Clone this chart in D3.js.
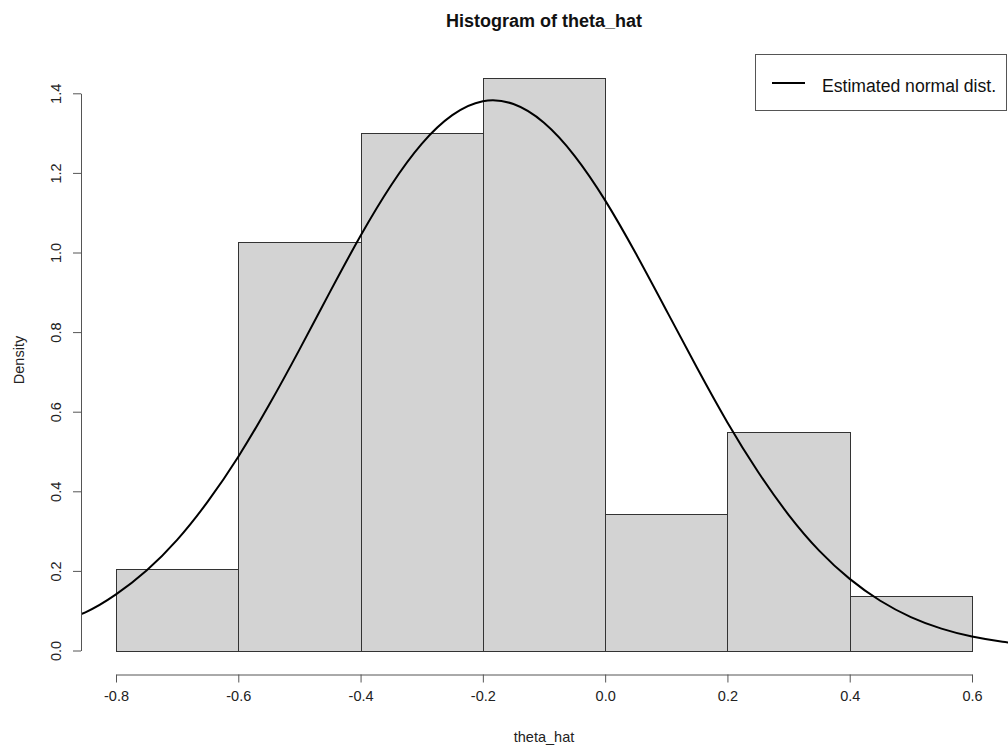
<!DOCTYPE html>
<html>
<head>
<meta charset="utf-8">
<script src="https://cdn.jsdelivr.net/npm/d3@7"></script>
<style>
	body { margin: 0; background: #fff; }
	svg { display: block; font-family: "Liberation Sans", Arial, sans-serif; }
</style>
</head>
<body>
<svg id="chart" width="1008" height="749"></svg>
<script>
// histogram bins (left edges + last right edge) and densities
var breaks = [-0.8, -0.6, -0.4, -0.2, 0.0, 0.2, 0.4, 0.6];
var density = [0.205, 1.027, 1.301, 1.438, 0.342, 0.548, 0.137];

// estimated normal curve
var curveX = [-0.90, -0.85, -0.80, -0.75, -0.70, -0.65, -0.60, -0.55, -0.50, -0.45, -0.40, -0.35, -0.30, -0.25, -0.20,
	-0.15, -0.10, -0.05, 0.00, 0.05, 0.10, 0.15, 0.20, 0.25, 0.30, 0.35, 0.40, 0.45, 0.50, 0.55, 0.60, 0.65, 0.70];
var curveY = [0.069, 0.096, 0.141, 0.201, 0.278, 0.374, 0.487, 0.616, 0.756, 0.901, 1.042, 1.169, 1.273, 1.345, 1.380,
	1.373, 1.326, 1.243, 1.131, 0.998, 0.855, 0.711, 0.573, 0.449, 0.341, 0.251, 0.180, 0.125, 0.084, 0.055, 0.035, 0.022, 0.013];

var xTicks = [-0.8, -0.6, -0.4, -0.2, 0.0, 0.2, 0.4, 0.6];
var yTicks = [0.0, 0.2, 0.4, 0.6, 0.8, 1.0, 1.2, 1.4];

var svg = d3.select("#chart");

var x = d3.scaleLinear().domain([-0.8, 0.6]).range([116, 972]);
var y = d3.scaleLinear().domain([0, 1.4]).range([650.5, 93.3]);

// plot region clip (R usr box)
svg.append("clipPath").attr("id", "plotclip")
	.append("rect").attr("x", 81).attr("y", 55).attr("width", 927).attr("height", 620);

// bars
var bins = density.map(function(d, i) { return {x0: breaks[i], x1: breaks[i + 1], d: d}; });
svg.append("g").selectAll("rect")
	.data(bins)
	.enter().append("rect")
	.attr("x", function(b) { return Math.round(x(b.x0)) + 0.5; })
	.attr("y", function(b) { return Math.round(y(b.d)) + 0.5; })
	.attr("width", function(b) { return Math.round(x(b.x1)) - Math.round(x(b.x0)); })
	.attr("height", function(b) { return Math.round(y(0)) - Math.round(y(b.d)); })
	.attr("fill", "#d3d3d3")
	.attr("stroke", "#333")
	.attr("stroke-width", 1);

// normal curve
var line = d3.line()
	.x(function(d) { return x(d[0]); })
	.y(function(d) { return y(d[1]); })
	.curve(d3.curveNatural);
svg.append("path")
	.datum(d3.zip(curveX, curveY))
	.attr("clip-path", "url(#plotclip)")
	.attr("d", line)
	.attr("fill", "none")
	.attr("stroke", "#000")
	.attr("stroke-width", 2);

// x axis
var xAxis = svg.append("g").attr("transform", "translate(0,674.5)")
	.call(d3.axisBottom(x).tickValues(xTicks).tickSize(8).tickSizeOuter(0).tickPadding(8)
		.tickFormat(d3.format(".1f")));
xAxis.select(".domain").attr("stroke", "#555");
xAxis.selectAll(".tick line").attr("stroke", "#555");
xAxis.selectAll(".tick text")
	.attr("font-size", "14.5px").attr("fill", "#222")
	.attr("font-family", "Liberation Sans, Arial, sans-serif")
	.text(function(d) { return d3.format(".1f")(d).replace("\u2212", "-"); });

// y axis
var yAxis = svg.append("g").attr("transform", "translate(81,0)")
	.call(d3.axisLeft(y).tickValues(yTicks).tickSize(8).tickSizeOuter(0)
		.tickFormat(d3.format(".1f")));
yAxis.select(".domain").attr("stroke", "#555");
yAxis.selectAll(".tick line").attr("stroke", "#555");
yAxis.selectAll(".tick text")
	.attr("font-size", "14.5px").attr("fill", "#222")
	.attr("font-family", "Liberation Sans, Arial, sans-serif")
	.attr("text-anchor", "middle")
	.attr("x", null).attr("dy", null)
	.attr("transform", "translate(-20,0) rotate(-90)");

// title and axis labels
svg.append("text")
	.attr("x", 544).attr("y", 26.5)
	.attr("text-anchor", "middle")
	.attr("font-size", "18px").attr("font-weight", "bold").attr("fill", "#111")
	.text("Histogram of theta_hat");

svg.append("text")
	.attr("x", 544).attr("y", 741.5)
	.attr("text-anchor", "middle")
	.attr("font-size", "14.5px").attr("fill", "#222")
	.text("theta_hat");

svg.append("text")
	.attr("transform", "translate(23.5,360) rotate(-90)")
	.attr("text-anchor", "middle")
	.attr("font-size", "14.5px").attr("fill", "#222")
	.text("Density");

// legend
var legend = svg.append("g");
legend.append("rect")
	.attr("x", 755.5).attr("y", 54.5).attr("width", 251).attr("height", 56)
	.attr("fill", "#fff").attr("stroke", "#555");
legend.append("line")
	.attr("x1", 772).attr("x2", 805).attr("y1", 83).attr("y2", 83)
	.attr("stroke", "#000").attr("stroke-width", 2);
legend.append("text")
	.attr("x", 822).attr("y", 91.5)
	.attr("font-size", "17.6px").attr("fill", "#111")
	.text("Estimated normal dist.");
</script>
</body>
</html>
